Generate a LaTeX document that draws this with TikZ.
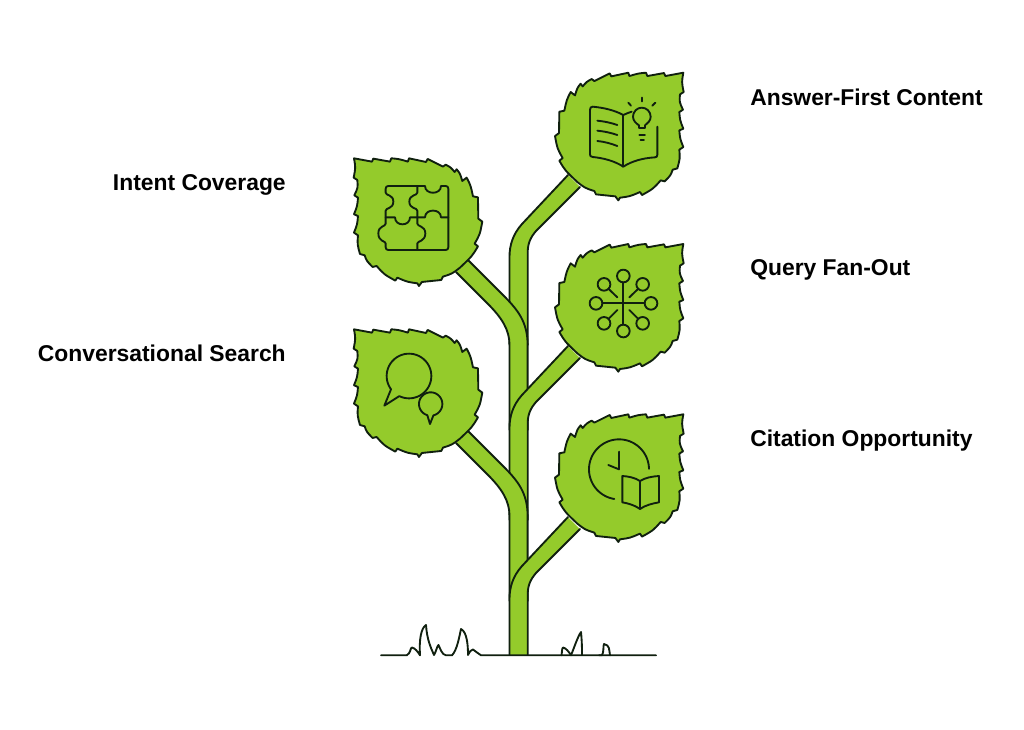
\documentclass[tikz,border=0pt]{standalone}
\usepackage{fontspec}
\setmainfont{Liberation Sans}
\definecolor{leafgreen}{HTML}{94CB2B}
\definecolor{inkline}{HTML}{10200F}
\tikzset{
  ink/.style={draw=inkline,line width=1.4pt,line join=round,line cap=round},
  iconline/.style={draw=inkline,line width=1.4pt,line join=round,line cap=round},
  leafshape/.style={draw=inkline,fill=leafgreen,line width=1.4pt,line join=round},
  lab/.style={font=\fontsize{17.15pt}{20pt}\selectfont\bfseries,text=black,inner sep=0pt},
}
\newcommand{\stembranch}[2]{%
  \fill[leafgreen] #1 -- #2 -- cycle;
  \draw[ink] #1;
  \draw[ink] #2;
}
\newcommand{\leafoutline}{(430,27) .. controls (405,33) .. (376,37) -- (372,28) .. controls (350,32) .. (322,37) -- (318,27) .. controls (295,29) .. (268,37) -- (265,27) .. controls (240,30) .. (214,38) -- (209,29) .. controls (185,38) .. (163,52) -- (155,46) .. controls (140,54) .. (128,68) -- (122,60) .. controls (112,72) .. (105,95) -- (92,85) .. controls (80,108) .. (73,141) -- (58,144) .. controls (55,175) .. (57,208) -- (45,217) .. controls (52,255) .. (68,283) -- (58,291) .. controls (75,320) .. (112,355) .. controls (135,373) .. (163,382) -- (168,392) .. controls (195,396) .. (226,398) -- (235,410) -- (240,402) .. controls (270,398) .. (300,385) -- (306,394) .. controls (340,375) .. (362,350) -- (374,353) .. controls (392,335) .. (398,318) -- (412,314) .. controls (420,285) .. (418,258) -- (430,250) .. controls (420,225) .. (418,200) -- (430,195) .. controls (420,170) .. (418,145) -- (429,138) .. controls (418,115) .. (420,92) -- (431,85) .. controls (425,55) .. (430,27) -- cycle}
\begin{document}
\begin{tikzpicture}[x=0.75pt,y=-0.75pt]
\useasboundingbox (0,0) rectangle (1024,729);
\fill[white] (0,0) rectangle (1024,729);

% stems, top to bottom
\stembranch{(568,175) -- (522,224) .. controls (513,234) and (509.5,245) .. (509.5,257) -- (509.5,345)}{(527.7,345) -- (527.7,253) .. controls (527.7,244) and (530,238) .. (536,231) -- (580,187)}
\stembranch{(468,260) -- (503,295) .. controls (518,310) and (527.6,322) .. (527.6,345) -- (527.6,430)}{(509.5,430) -- (509.5,345) .. controls (509.5,330) and (502,318) .. (488,304) -- (456,272)}
\stembranch{(568,346) -- (522,395) .. controls (513,405) and (509.5,416) .. (509.5,428) -- (509.5,520)}{(527.7,520) -- (527.7,424) .. controls (527.7,415) and (530,409) .. (536,402) -- (580,358)}
\stembranch{(468,431) -- (503,466) .. controls (518,481) and (527.6,493) .. (527.6,516) -- (527.6,601)}{(509.5,601) -- (509.5,516) .. controls (509.5,501) and (502,489) .. (488,475) -- (456,443)}
\stembranch{(568,517) -- (522,566) .. controls (513,576) and (509.5,587) .. (509.5,599) -- (509.5,655)}{(527.7,655) -- (527.7,595) .. controls (527.7,586) and (530,580) .. (536,573) -- (580,529)}

% ground with grass
\draw[ink] (381,655.3) -- (406.7,655.3) .. controls (411,653) and (410,648) .. (412,647.5) .. controls (415,648) and (418,652) .. (420,655.3) .. controls (419,640) and (421,628) .. (426,625) .. controls (427,640) and (431,648) .. (434,655) .. controls (436,652) and (437,646) .. (438.5,645) .. controls (440,648) and (442,655) .. (446,655.3) -- (452,655.3) .. controls (457,650) and (459,638) .. (461,629) .. controls (467,632) and (468,645) .. (468,655) .. controls (470,651) and (471,650) .. (473,649.5) .. controls (476,651) and (478,654) .. (481,655.3) -- (656,655.3);
\draw[ink] (561.5,655.3) .. controls (562,652) and (562,648) .. (563,647.5) .. controls (566,648) and (569,652) .. (571,655.3) .. controls (574,648) and (578,636) .. (581,632) .. controls (582,642) and (582,650) .. (582,655);
\draw[ink] (599,655.3) -- (602,655.3) .. controls (604,652) and (603,646) .. (604,644) .. controls (610,645) and (609,650) .. (610,655.3);

% leaves
\begin{scope}[shift={(540,63.7)},scale=0.33333] \draw[leafshape] \leafoutline; \end{scope}
\begin{scope}[shift={(540,235)},scale=0.33333] \draw[leafshape] \leafoutline; \end{scope}
\begin{scope}[shift={(540,405.3)},scale=0.33333] \draw[leafshape] \leafoutline; \end{scope}
\begin{scope}[shift={(497.3,149.3)},xscale=-0.33333,yscale=0.33333] \draw[leafshape] \leafoutline; \end{scope}
\begin{scope}[shift={(497.3,320.3)},xscale=-0.33333,yscale=0.33333] \draw[leafshape] \leafoutline; \end{scope}

% icon: book and bulb
\begin{scope}[shift={(540,60)},scale=0.33333]
\draw[iconline] (275,155) .. controls (266,158) and (258,161) .. (250,165) .. controls (222,150) and (190,143) .. (158,140) .. controls (152,140) and (150,144) .. (150,150) -- (150,283) .. controls (150,288) and (152,290) .. (158,291) .. controls (190,294) and (224,303) .. (250,320) .. controls (276,303) and (310,294) .. (345,292) .. controls (350,292) and (352,289) .. (352,284) -- (352,200);
\draw[iconline] (250,165) -- (250,320);
\draw[iconline] (172,182) .. controls (192,184) and (212,188) .. (232,195);
\draw[iconline] (172,212) .. controls (192,214) and (212,218) .. (232,225);
\draw[iconline] (172,243) .. controls (192,245) and (212,250) .. (232,258);
\draw[iconline] (297,204) -- (297,196) .. controls (288,190) and (279,182) .. (279,170) .. controls (279,155) and (291,143) .. (305,143) .. controls (320,143) and (332,155) .. (332,170) .. controls (332,182) and (323,190) .. (315,196) -- (315,204) -- cycle;
\draw[iconline] (298,225) -- (315,225);
\draw[iconline] (302,241) -- (312,241);
\draw[iconline] (305,113) -- (305,124);
\draw[iconline] (265,128) -- (273,137);
\draw[iconline] (346,128) -- (337,137);
\end{scope}

% icon: puzzle
\begin{scope}[shift={(340,145)},scale=0.33333]
\draw[iconline] (145,123) -- (255,123) .. controls (255,150) and (303,150) .. (303,123) -- (317,123) .. controls (322,123) and (325,126) .. (325,131) -- (325,307) .. controls (325,312) and (322,315) .. (317,315) -- (145,315) .. controls (140,315) and (137,312) .. (137,307) -- (137,295) .. controls (137,288) and (115,290) .. (115,265) .. controls (115,242) and (137,245) .. (137,236) -- (137,197) .. controls (137,188) and (160,192) .. (160,170) .. controls (160,148) and (137,152) .. (137,143) -- (137,131) .. controls (137,126) and (140,123) .. (145,123);
\draw[iconline] (232,123) -- (232,143) .. controls (232,152) and (208,148) .. (208,170) .. controls (208,192) and (232,188) .. (232,197) -- (232,236) .. controls (232,245) and (256,242) .. (256,265) .. controls (256,290) and (232,288) .. (232,295) -- (232,315);
\draw[iconline] (137,217) -- (165,217) .. controls (165,245) and (210,245) .. (210,217) -- (255,217) .. controls (255,190) and (303,190) .. (303,217) -- (325,217);
\end{scope}

% icon: network
\begin{scope}[shift={(540,235)},scale=0.33333]
\foreach \cx/\cy in {250/123,250/288,168/205,333/205,192/148,308/148,192/265,308/265}
  \draw[iconline] (\cx,\cy) circle[radius=19];
\draw[iconline] (250,142) -- (250,269);
\draw[iconline] (187,205) -- (314,205);
\draw[iconline] (205,161) -- (232,187);
\draw[iconline] (295,161) -- (268,187);
\draw[iconline] (205,252) -- (232,225);
\draw[iconline] (295,252) -- (268,225);
\end{scope}

% icon: speech bubbles
\begin{scope}[shift={(340,320)},scale=0.33333]
\draw[iconline] (133,257) -- plot[domain=143.6:475.8,samples=90,smooth] ({207+67*cos(\x)},{168+67*sin(\x)}) -- cycle;
\draw[iconline,fill=leafgreen] (270,312) -- plot[domain=106.8:436.4,samples=60,smooth] ({272+35*cos(\x)},{252+35*sin(\x)}) -- cycle;
\end{scope}

% icon: clock and book
\begin{scope}[shift={(540,405)},scale=0.33333]
\draw[iconline] plot[domain=-1:-261,samples=80,smooth] ({237+90*cos(\x)},{193+90*sin(\x)});
\draw[iconline] (237,140) -- (237,193) -- (205,180);
\draw[iconline] (300,228) .. controls (285,218) and (265,214) .. (247,213) -- (247,292) .. controls (265,295) and (285,301) .. (300,312) .. controls (315,301) and (338,295) .. (357,292) -- (357,213) .. controls (338,214) and (315,218) .. (300,228) -- (300,312);
\end{scope}

% labels
\node[lab,anchor=base east] (intent) at (286,190.7) {Intent Coverage};
\node[lab,anchor=base east] (conv) at (286,361) {Conversational Search};
\node[lab,anchor=base west] (answer) at (750,105) {Answer-First Content};
\node[lab,anchor=base west] (query) at (750,275) {Query Fan-Out};
\node[lab,anchor=base west] (cite) at (750,446) {Citation Opportunity};
\end{tikzpicture}
\end{document}
